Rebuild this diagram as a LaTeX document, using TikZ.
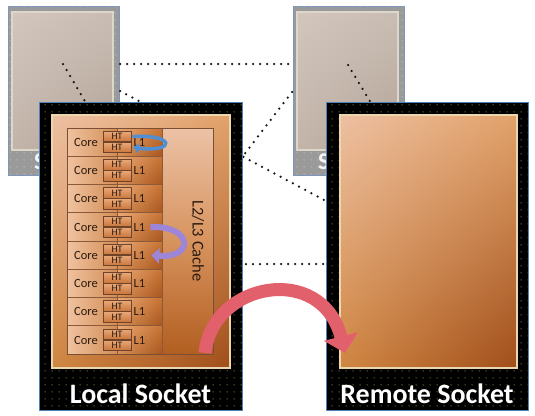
\documentclass[tikz,border=0pt]{standalone}
\usepackage{fontspec}
\setmainfont{Carlito}
\usetikzlibrary{patterns.meta,arrows.meta,shadings}

\definecolor{sockblue}{HTML}{4F81BD}
\definecolor{graysockline}{HTML}{7D97BC}
\definecolor{graymain}{HTML}{9A9A9A}
\definecolor{graydot}{HTML}{C8C8C8}
\definecolor{blackdot}{HTML}{9A8F42}
\definecolor{panelrim}{HTML}{EAD7AE}
\definecolor{grayrim}{HTML}{DDD6CA}
\definecolor{cellline}{HTML}{8A5A3A}
\definecolor{framebrown}{HTML}{7A4F35}
\definecolor{celltext}{HTML}{2B1A0E}
\definecolor{dotline}{HTML}{151515}
\definecolor{bluearr}{HTML}{4F8FD6}
\definecolor{purparr}{HTML}{9D86D8}
\definecolor{redarr}{HTML}{E2606C}
% gray panel
\definecolor{gUL}{HTML}{D2C6BD}
\definecolor{gUR}{HTML}{C9BDB3}
\definecolor{gLL}{HTML}{C2B4A9}
\definecolor{gLR}{HTML}{B3A397}
% orange panel
\definecolor{oUL}{HTML}{EDC0A2}
\definecolor{oUR}{HTML}{E2A26A}
\definecolor{oLL}{HTML}{D08642}
\definecolor{oLR}{HTML}{A04E1A}
% cells
\definecolor{coreL}{HTML}{F0C29F}
\definecolor{coreR}{HTML}{D38D55}
\definecolor{lUL}{HTML}{EAAA78}
\definecolor{lUR}{HTML}{C87434}
\definecolor{lLL}{HTML}{D68F55}
\definecolor{lLR}{HTML}{A8561E}
\definecolor{htT}{HTML}{E9A878}
\definecolor{htB}{HTML}{C8743A}
\definecolor{htline}{HTML}{6E4329}
\definecolor{cacheT}{HTML}{ECC2A6}
\definecolor{cacheM}{HTML}{D7935E}
\definecolor{cacheB}{HTML}{B25E20}

\tikzdeclarepattern{
  name=sockdots,
  type=uncolored,
  bounding box={(0pt,0pt) and (7pt,7pt)},
  tile size={(7pt,7pt)},
  code={\fill (3.5pt,3.5pt) circle [radius=0.7pt];}
}

\begin{document}
\begin{tikzpicture}[x=1pt,y=-1pt,
  every node/.style={inner sep=0pt, outer sep=0pt},
  graysock/.style={rectangle, draw=graysockline, line width=0.8pt, fill=graymain,
    postaction={pattern=sockdots, pattern color=graydot}},
  graypanel/.style={rectangle, draw=grayrim, line width=1.5pt,
    upper left=gUL, upper right=gUR, lower left=gLL, lower right=gLR},
  frontsock/.style={rectangle, draw=sockblue, line width=1pt, fill=black,
    postaction={pattern=sockdots, pattern color=blackdot}},
  orangepanel/.style={rectangle, draw=panelrim, line width=1.6pt,
    upper left=oUL, upper right=oUR, lower left=oLL, lower right=oLR},
  socklabel/.style={text=white, font=\fontsize{28}{30}\selectfont\bfseries},
  ghostlabel/.style={text=white!92!gray, font=\fontsize{24}{26}\selectfont\bfseries},
  corecell/.style={rectangle, draw=cellline, line width=0.7pt, left color=coreL, right color=coreR,
    minimum width=50pt, minimum height=28.25pt, anchor=north west},
  lonecell/.style={rectangle, draw=cellline, line width=0.7pt,
    upper left=lUL, upper right=lUR, lower left=lLL, lower right=lLR,
    minimum width=45pt, minimum height=28.25pt, anchor=north west},
  htbox/.style={rectangle, draw=htline, line width=0.8pt, top color=htT, bottom color=htB,
    minimum width=28pt, minimum height=10.5pt, text=celltext, font=\fontsize{9.8}{9.8}\selectfont},
  celltxt/.style={text=celltext, font=\fontsize{12.5}{12.5}\selectfont},
  dotted link/.style={draw=dotline, line width=2.5pt, line cap=round, dash pattern=on 0pt off 7pt},
  bluearrow/.style={draw=bluearr, line width=3.4pt, -{Triangle[length=6pt,width=10pt]}},
  purparrow/.style={draw=purparr, line width=6pt, -{Triangle[length=8pt,width=15pt]}},
  redarrow/.style={draw=redarr, line width=13pt, -{Triangle[length=17pt,width=34pt]}}
]
\useasboundingbox (0,0) rectangle (535,415);

% ---------- back (ghost) sockets ----------
\node[graysock, minimum width=111pt, minimum height=169pt] (bl) at (63.5,90.5) {};
\node[graypanel, minimum width=101pt, minimum height=138pt] (blp) at (62.5,81) {};
\node[ghostlabel, anchor=base west] (bls) at (34,169) {S};

\node[graysock, minimum width=111pt, minimum height=169pt] (br) at (348.5,90.5) {};
\node[graypanel, minimum width=101pt, minimum height=138pt] (brp) at (347.5,81) {};
\node[ghostlabel, anchor=base west] (brs) at (318,169) {S};

% ---------- dotted interconnects ----------
\coordinate (blE) at (120,64);
\coordinate (brW) at (293,64);
\coordinate (blC) at (63,64);
\coordinate (lTop) at (86,103);
\coordinate (blSE) at (120,91);
\coordinate (rW1) at (326,201);
\coordinate (brW2) at (292,92);
\coordinate (lE1) at (240,160);
\coordinate (brC) at (348,65);
\coordinate (rTop) at (371,103);
\coordinate (lE2) at (246,264);
\coordinate (rW2) at (324,264);

\draw[dotted link] (blE) -- (brW);
\draw[dotted link] (blC) -- (lTop);
\draw[dotted link] (blSE) -- (rW1);
\draw[dotted link] (brW2) -- (lE1);
\draw[dotted link] (brC) -- (rTop);
\draw[dotted link] (lE2) -- (rW2);

% ---------- front sockets ----------
\node[frontsock, minimum width=203pt, minimum height=308pt] (local) at (140.5,256) {};
\node[orangepanel, minimum width=178pt, minimum height=253pt] (lpanel) at (141,241.5) {};
\node[socklabel] (llabel) at (140.5,394) {Local Socket};

\node[frontsock, minimum width=202pt, minimum height=308pt] (remote) at (427,256) {};
\node[orangepanel, minimum width=177pt, minimum height=253pt] (rpanel) at (428.5,241.5) {};
\node[socklabel] (rlabel) at (427,394) {Remote Socket};

% ---------- cache ----------
\node[rectangle, draw=cellline, line width=0.7pt, top color=cacheT, bottom color=cacheB, middle color=cacheM,
      minimum width=51pt, minimum height=226.5pt, anchor=north west] (cache) at (162,128) {};
\node[celltxt, rotate=-90, font=\fontsize{16.5}{17}\selectfont] (cachet) at (198,241) {L2/L3 Cache};

% ---------- cores ----------
\foreach \i in {1,...,8}{
  \pgfmathsetmacro{\yy}{128+(\i-1)*28.25}
  \node[lonecell] (lcell\i) at (117,\yy) {};
  \node[corecell] (ccell\i) at (67,\yy) {};
  \node[celltxt] (coret\i) at (86,\yy+14.3) {Core};
  \node[celltxt] (lone\i) at (139.5,\yy+14.3) {L1};
  \node[htbox] (hta\i) at (117,\yy+8.6) {HT};
  \node[htbox] (htb\i) at (117,\yy+19.6) {HT};
}
\node[draw=framebrown, line width=0.9pt, minimum width=146pt, minimum height=226.5pt, anchor=north west] (frame) at (67,128) {};

% ---------- arrows ----------
\draw[bluearrow] ([xshift=1.5pt]hta1.east) .. controls +(42,-3) and +(44,5) .. ([xshift=2pt]htb1.east);
\draw[purparrow] ([xshift=5pt]lone4.east) .. controls +(42,-2) and +(44,3) .. ([xshift=6pt]lone5.east);

\coordinate (redtail) at (205,353);
\coordinate (redtip) at (345,353);
\draw[redarrow] (redtail) .. controls (212,282) and (322,262) .. (redtip);
\end{tikzpicture}
\end{document}
